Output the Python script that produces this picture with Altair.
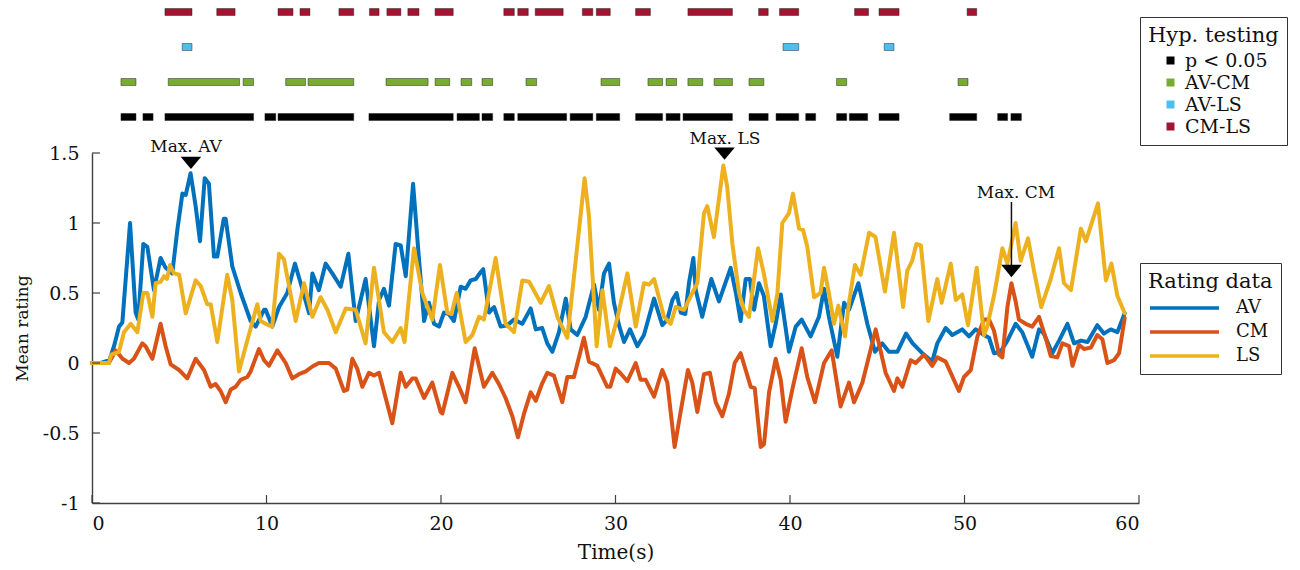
import altair as alt
import pandas as pd

FONT = "DejaVu Serif"
TEXT_COLOR = "#111111"
AXIS_COLOR = "#404040"

X_TICKS = [0, 10, 20, 30, 40, 50, 60]
Y_TICKS = [-1, -0.5, 0, 0.5, 1, 1.5]

SERIES = ["AV", "CM", "LS"]
SERIES_COLORS = ["#0072BD", "#D95319", "#EDB120"]

TESTS = ["p < 0.05", "AV-CM", "AV-LS", "CM-LS"]
TEST_COLORS = ["#000000", "#77AC30", "#4DBEEE", "#A2142F"]
ROW_ORDER = ["CM-LS", "AV-LS", "AV-CM", "p < 0.05"]

# (time s, mean rating)
AV = [(0, 0), (0.5, 0), (1.0, 0.02), (1.26, 0.12), (1.55, 0.26), (1.74, 0.29), (2.18, 1.0),
      (2.5, 0.36), (2.65, 0.31), (2.94, 0.85), (3.17, 0.83), (3.55, 0.52), (3.93, 0.75),
      (4.22, 0.68), (4.6, 0.64), (4.89, 0.95), (5.18, 1.21), (5.37, 1.2), (5.65, 1.355),
      (5.94, 1.12), (6.19, 0.87), (6.46, 1.32), (6.7, 1.28), (6.99, 0.76), (7.18, 0.76),
      (7.55, 1.03), (7.66, 1.03), (8.04, 0.69), (8.52, 0.5), (9.09, 0.3), (9.38, 0.26),
      (9.86, 0.38), (9.95, 0.38), (10.33, 0.26), (10.72, 0.4), (11.19, 0.5), (11.63, 0.71),
      (11.96, 0.57), (12.44, 0.355), (12.63, 0.64), (13.0, 0.52), (13.39, 0.71), (13.77, 0.64),
      (14.25, 0.545), (14.69, 0.78), (15.11, 0.3), (15.68, 0.6), (16.16, 0.12), (16.45, 0.45),
      (16.73, 0.53), (17.02, 0.41), (17.4, 0.85), (17.69, 0.84), (17.98, 0.62), (18.4, 1.28),
      (18.74, 0.74), (19.03, 0.3), (19.31, 0.43), (19.6, 0.28), (19.89, 0.26), (20.17, 0.36),
      (20.45, 0.35), (20.74, 0.3), (21.13, 0.545), (21.41, 0.53), (21.7, 0.59), (21.99, 0.6),
      (22.28, 0.65), (22.42, 0.67), (22.75, 0.36), (23.04, 0.4), (23.42, 0.26), (23.8, 0.27),
      (24.18, 0.31), (24.66, 0.28), (25.14, 0.39), (25.43, 0.24), (25.8, 0.25), (26.09, 0.14),
      (26.38, 0.08), (26.76, 0.22), (27.15, 0.46), (27.43, 0.24), (27.81, 0.2), (28.29, 0.33),
      (28.77, 0.56), (29.05, 0.38), (29.34, 0.64), (29.63, 0.71), (29.91, 0.43), (30.2, 0.27),
      (30.49, 0.15), (30.83, 0.24), (31.25, 0.12), (31.63, 0.2), (32.21, 0.46), (32.68, 0.27),
      (32.97, 0.31), (33.26, 0.45), (33.5, 0.5), (33.74, 0.36), (34.0, 0.35), (34.21, 0.57),
      (34.46, 0.75), (34.6, 0.52), (34.97, 0.33), (35.49, 0.6), (35.93, 0.44), (36.6, 0.68),
      (36.9, 0.5), (37.17, 0.3), (37.46, 0.6), (37.7, 0.6), (37.94, 0.38), (38.22, 0.57),
      (38.5, 0.48), (38.89, 0.12), (39.18, 0.28), (39.47, 0.49), (39.75, 0.25), (39.94, 0.08),
      (40.33, 0.26), (40.67, 0.31), (41.18, 0.19), (41.66, 0.33), (41.95, 0.53), (42.23, 0.33),
      (42.71, 0.045), (43.1, 0.43), (43.38, 0.38), (43.92, 0.57), (44.43, 0.28), (44.87, 0.08),
      (45.29, 0.14), (45.67, 0.08), (46.15, 0.08), (46.65, 0.21), (47.03, 0.14), (47.58, 0.07),
      (48.15, 0.01), (48.44, 0.14), (48.92, 0.25), (49.3, 0.2), (49.87, 0.24), (50.26, 0.19),
      (50.64, 0.24), (51.12, 0.2), (51.41, 0.18), (51.69, 0.07), (52.07, 0.08), (52.46, 0.16),
      (52.93, 0.28), (53.31, 0.22), (53.88, 0.045), (54.27, 0.24), (54.55, 0.21), (55.03, 0.07),
      (55.42, 0.16), (55.9, 0.28), (56.28, 0.14), (56.67, 0.16), (57.05, 0.15), (57.61, 0.27),
      (57.99, 0.21), (58.38, 0.24), (58.76, 0.22), (59.18, 0.355)]

CM = [(0, 0), (0.97, 0), (1.36, 0.09), (1.75, 0.03), (2.12, 0.0), (2.4, 0.03), (2.88, 0.14),
      (3.07, 0.12), (3.46, 0.03), (3.93, 0.28), (4.22, 0.12), (4.51, -0.01), (4.99, -0.05),
      (5.46, -0.11), (5.94, 0.03), (6.42, -0.05), (6.8, -0.17), (7.08, -0.15), (7.37, -0.2),
      (7.66, -0.28), (7.95, -0.19), (8.23, -0.17), (8.52, -0.12), (8.9, -0.1), (9.09, -0.06),
      (9.57, 0.1), (9.86, 0.02), (10.14, -0.02), (10.62, 0.09), (11.1, 0.0), (11.48, -0.11),
      (11.86, -0.08), (12.25, -0.06), (12.63, -0.025), (13.0, 0.0), (13.58, 0.0), (13.97, -0.04),
      (14.44, -0.2), (14.63, -0.19), (14.92, 0.03), (15.2, -0.04), (15.49, -0.17), (15.87, -0.07),
      (16.16, -0.09), (16.45, -0.07), (17.21, -0.43), (17.69, -0.07), (17.98, -0.17),
      (18.36, -0.11), (18.55, -0.11), (19.03, -0.25), (19.5, -0.14), (19.98, -0.35),
      (20.08, -0.36), (20.65, -0.07), (21.03, -0.17), (21.41, -0.28), (21.93, 0.105),
      (22.46, -0.17), (22.94, -0.07), (23.32, -0.15), (23.7, -0.25), (24.09, -0.38),
      (24.41, -0.53), (24.76, -0.36), (25.14, -0.21), (25.43, -0.27), (25.8, -0.145),
      (26.09, -0.07), (26.47, -0.09), (26.95, -0.28), (27.24, -0.1), (27.62, -0.1), (28.19, 0.18),
      (28.48, 0.01), (28.96, -0.02), (29.53, -0.17), (29.7, -0.17), (30.01, -0.04), (30.26, -0.07),
      (30.68, -0.13), (31.16, 0.0), (31.44, -0.12), (31.73, -0.12), (32.21, -0.24), (32.68, -0.05),
      (32.97, -0.14), (33.39, -0.6), (33.73, -0.35), (34.15, -0.05), (34.4, -0.14), (34.69, -0.35),
      (35.07, -0.08), (35.41, -0.07), (35.74, -0.28), (36.12, -0.38), (36.5, -0.22), (36.83, 0.0),
      (37.17, 0.07), (37.46, -0.05), (37.75, -0.17), (37.98, -0.18), (38.32, -0.6), (38.51, -0.58),
      (38.8, -0.21), (39.18, 0.03), (39.47, -0.12), (39.75, -0.42), (40.13, -0.19), (40.67, 0.105),
      (40.99, -0.1), (41.43, -0.28), (41.95, 0.0), (42.39, 0.09), (42.9, -0.31), (43.38, -0.14),
      (43.67, -0.28), (44.15, -0.14), (44.53, 0.05), (44.91, 0.24), (45.48, -0.07), (45.96, -0.2),
      (46.15, -0.11), (46.44, -0.17), (46.92, 0.02), (47.2, 0.0), (47.68, 0.06), (48.15, -0.02),
      (48.44, 0.04), (48.92, 0.01), (49.68, -0.2), (49.97, -0.1), (50.36, -0.05), (50.74, 0.19),
      (51.12, 0.31), (51.41, 0.31), (51.69, 0.23), (51.98, 0.06), (52.17, 0.04), (52.46, 0.4),
      (52.69, 0.57), (52.93, 0.44), (53.12, 0.31), (53.51, 0.28), (53.88, 0.26), (54.27, 0.33),
      (54.65, 0.18), (54.94, 0.05), (55.32, 0.04), (55.61, 0.14), (55.99, 0.12), (56.19, -0.02),
      (56.56, 0.13), (56.85, 0.1), (57.24, 0.11), (57.61, 0.2), (57.9, 0.17), (58.19, 0.0),
      (58.57, 0.02), (58.86, 0.07), (59.18, 0.32)]

LS = [(0, 0), (0.97, 0), (1.1, 0.06), (1.55, 0.08), (1.83, 0.22), (2.22, 0.28), (2.6, 0.22),
      (2.94, 0.5), (3.17, 0.5), (3.46, 0.33), (3.65, 0.57), (3.93, 0.58), (4.13, 0.62), (4.3, 0.6),
      (4.47, 0.7), (4.7, 0.64), (5.0, 0.63), (5.37, 0.355), (5.94, 0.59), (6.23, 0.55), (6.6, 0.42),
      (6.8, 0.42), (7.18, 0.15), (7.75, 0.63), (8.04, 0.45), (8.42, -0.06), (8.9, 0.16),
      (9.47, 0.42), (9.67, 0.3), (9.95, 0.28), (10.33, 0.26), (10.72, 0.78), (11.0, 0.74),
      (11.67, 0.3), (12.15, 0.57), (12.63, 0.33), (13.1, 0.47), (13.49, 0.38), (13.97, 0.22),
      (14.54, 0.39), (15.11, 0.38), (15.68, 0.14), (16.16, 0.68), (16.73, 0.22), (17.21, 0.15),
      (17.69, 0.25), (17.91, 0.15), (18.45, 0.82), (18.93, 0.5), (19.5, 0.31), (19.94, 0.7),
      (20.36, 0.36), (20.6, 0.35), (20.9, 0.5), (21.41, 0.15), (21.8, 0.2), (22.18, 0.33),
      (22.46, 0.31), (23.13, 0.75), (23.7, 0.28), (24.18, 0.22), (24.66, 0.59), (25.05, 0.58),
      (25.71, 0.43), (26.19, 0.55), (26.67, 0.33), (27.24, 0.18), (28.23, 1.32), (28.48, 1.05),
      (28.92, 0.12), (29.25, 0.52), (29.68, 0.12), (30.1, 0.32), (30.68, 0.64), (31.16, 0.26),
      (31.63, 0.57), (31.92, 0.56), (32.21, 0.6), (32.78, 0.33), (33.16, 0.28), (33.45, 0.4),
      (33.93, 0.38), (34.4, 0.5), (34.69, 0.57), (35.07, 1.07), (35.26, 1.12), (35.64, 0.9),
      (36.18, 1.41), (36.4, 1.26), (36.7, 0.85), (37.08, 0.5), (37.36, 0.38), (37.65, 0.33),
      (38.17, 0.82), (38.5, 0.64), (38.99, 0.3), (39.28, 0.5), (39.56, 1.0), (39.94, 1.07),
      (40.17, 1.21), (40.52, 0.96), (40.75, 0.95), (40.99, 0.83), (41.38, 0.47), (41.75, 0.5),
      (41.95, 0.68), (42.23, 0.5), (42.52, 0.28), (42.77, 0.41), (43.15, 0.19), (43.38, 0.43),
      (43.72, 0.7), (44.05, 0.63), (44.53, 0.93), (44.9, 0.9), (45.44, 0.51), (45.96, 0.93),
      (46.48, 0.4), (46.72, 0.66), (47.0, 0.73), (47.24, 0.85), (47.5, 0.84), (47.93, 0.3),
      (48.44, 0.6), (48.69, 0.43), (49.21, 0.71), (49.5, 0.45), (49.87, 0.49), (50.2, 0.27),
      (50.7, 0.68), (51.12, 0.2), (51.3, 0.26), (51.69, 0.48), (52.17, 0.82), (52.46, 0.71),
      (52.93, 1.0), (53.22, 0.73), (53.64, 0.89), (53.98, 0.66), (54.4, 0.4), (54.94, 0.6),
      (55.42, 0.82), (55.7, 0.57), (56.1, 0.52), (56.67, 0.96), (56.96, 0.87), (57.65, 1.14),
      (58.1, 0.59), (58.42, 0.71), (58.76, 0.48), (59.18, 0.355)]

# significant intervals (start s, end s)
SIG_P = [(1.66, 2.52), (2.92, 3.5), (4.18, 9.26), (9.91, 10.53), (10.66, 15.0), (15.87, 20.7),
         (20.92, 22.2), (22.35, 22.96), (23.6, 24.2), (24.4, 27.2), (27.4, 28.7), (28.9, 30.24),
         (31.15, 32.7), (32.9, 33.7), (33.87, 36.7), (37.65, 38.75), (39.2, 40.5), (40.9, 41.47),
         (42.67, 43.25), (43.4, 44.45), (45.1, 46.25), (49.15, 50.7), (51.9, 52.47), (52.66, 53.26)]
SIG_AVCM = [(1.66, 2.52), (4.37, 8.46), (8.66, 9.26), (11.1, 12.24), (12.38, 15.0), (16.85, 19.26),
            (19.66, 20.5), (21.15, 21.76), (22.35, 22.96), (24.87, 25.48), (29.17, 30.24),
            (31.86, 32.7), (32.9, 33.5), (34.15, 35.0), (35.65, 36.7), (37.65, 38.5),
            (42.67, 43.25), (49.63, 50.2)]
SIG_AVLS = [(5.17, 5.73), (39.6, 40.5), (45.4, 45.96)]
SIG_CMLS = [(4.18, 5.73), (7.15, 8.2), (10.66, 11.52), (11.92, 12.49), (14.15, 15.0), (15.9, 16.45),
            (16.9, 17.7), (18.1, 18.74), (19.66, 20.7), (23.6, 24.2), (24.4, 25.0), (25.4, 27.0),
            (28.1, 28.7), (28.9, 29.7), (31.15, 32.0), (34.15, 36.7), (38.2, 38.75), (39.4, 40.5),
            (43.7, 44.5), (45.1, 46.25), (50.15, 50.7)]

# annotations: label anchors and marker anchors (data coordinates)
ANN_LABELS = ["Max. AV", "Max. LS", "Max. CM"]
ANN_T = [5.39, 36.27, 52.95]
ANN_V = [1.507, 1.564, 1.179]
MARK_T = [5.67, 36.25, 52.69]
MARK_V = [1.43, 1.496, 0.657]
ARROW_T = [52.69]
ARROW_V = [1.15]
ARROW_V2 = [0.70]

TICK_LEN_V = 0.057   # ~8 px in rating units
TICK_LEN_T = 0.46    # ~8 px in seconds

# ---------------- data frames ----------------
rows = []
for name, pts in zip(SERIES, [AV, CM, LS]):
    for i, (t, v) in enumerate(pts):
        rows.append({"series": name, "t": t, "v": v, "idx": i})
lines_df = pd.DataFrame(rows)

sig_rows = []
for name, segs in zip(TESTS, [SIG_P, SIG_AVCM, SIG_AVLS, SIG_CMLS]):
    for s, e in segs:
        sig_rows.append({"test": name, "start": s, "end": e})
sig_df = pd.DataFrame(sig_rows)

xt_df = pd.DataFrame({"t": X_TICKS, "v": [Y_TICKS[0]] * len(X_TICKS)})
xt_df["v2"] = xt_df["v"] + TICK_LEN_V
yt_df = pd.DataFrame({"t": [X_TICKS[0]] * len(Y_TICKS), "v": Y_TICKS})
yt_df["t2"] = yt_df["t"] + TICK_LEN_T
ann_df = pd.DataFrame({"t": ANN_T, "v": ANN_V, "label": ANN_LABELS})
mark_df = pd.DataFrame({"t": MARK_T, "v": MARK_V})
arrow_df = pd.DataFrame({"t": ARROW_T, "v": ARROW_V, "v2": ARROW_V2})

# ---------------- encodings ----------------
x_scale = alt.Scale(domain=[0, 60], nice=False, zero=False)
y_scale = alt.Scale(domain=[-1, 1.5], nice=False, zero=False)

x_axis = alt.Axis(values=X_TICKS, ticks=False, tickSize=0, grid=False, domainColor=AXIS_COLOR,
                  domainWidth=1.4, labelFont=FONT, labelFontSize=19, labelColor=TEXT_COLOR,
                  labelPadding=11, title="Time(s)", titleFont=FONT, titleFontSize=20,
                  titleFontWeight="normal", titleColor=TEXT_COLOR, titlePadding=9)
y_axis = alt.Axis(values=Y_TICKS, ticks=False, tickSize=0, grid=False, domainColor=AXIS_COLOR,
                  domainWidth=1.4, labelFont=FONT, labelFontSize=19, labelColor=TEXT_COLOR,
                  labelPadding=13, title="Mean rating", titleFont=FONT, titleFontSize=17,
                  titleFontWeight="normal", titleColor=TEXT_COLOR, titlePadding=11,
                  labelExpr="datum.value < 0 ? '-' + format(-datum.value, '') : format(datum.value, '')")

x_enc = alt.X("t:Q", scale=x_scale, axis=x_axis)
y_enc = alt.Y("v:Q", scale=y_scale, axis=y_axis)

stroke_enc = alt.Stroke(
    "series:N",
    scale=alt.Scale(domain=SERIES, range=SERIES_COLORS),
    legend=alt.Legend(
        title="Rating data", orient="none", legendX=1048, legendY=251, direction="vertical",
        titleFont=FONT, titleFontSize=21, titleFontWeight="normal", titleColor=TEXT_COLOR,
        labelFont=FONT, labelFontSize=18, labelColor=TEXT_COLOR,
        strokeColor="#333333", fillColor="white", padding=8, titlePadding=6, rowPadding=4,
        symbolType="stroke", symbolSize=4761, symbolStrokeWidth=3.5, clipHeight=20,
        labelOffset=15, cornerRadius=0, titleLimit=400,
    ),
)

line_layers = [
    alt.Chart(lines_df).transform_filter(alt.datum.series == s)
    .mark_line(strokeWidth=4, strokeJoin="round", strokeCap="round")
    .encode(x=x_enc, y=y_enc, stroke=stroke_enc, order="idx:Q")
    for s in SERIES
]

xticks = alt.Chart(xt_df).mark_rule(color=AXIS_COLOR, strokeWidth=1.2).encode(
    x=x_enc, y=y_enc, y2="v2:Q")
yticks = alt.Chart(yt_df).mark_rule(color=AXIS_COLOR, strokeWidth=1.2).encode(
    x=x_enc, x2="t2:Q", y=y_enc)
arrow = alt.Chart(arrow_df).mark_rule(color=TEXT_COLOR, strokeWidth=1.5).encode(
    x=x_enc, y=y_enc, y2="v2:Q")
markers = alt.Chart(mark_df).mark_point(
    shape="M-1,-0.6L1,-0.6L0,0.6Z", size=420, filled=True, color="#000000", opacity=1,
    strokeWidth=0).encode(x=x_enc, y=y_enc)
labels = alt.Chart(ann_df).mark_text(
    font=FONT, fontSize=17, baseline="alphabetic", align="center", color=TEXT_COLOR
).encode(x=x_enc, y=y_enc, text="label:N")

main = alt.layer(*line_layers, xticks, yticks, arrow, markers, labels).properties(
    width=1047, height=350)

top = alt.Chart(sig_df).mark_bar(size=7, stroke="#222222", strokeWidth=0.8, strokeOpacity=0.6).encode(
    x=alt.X("start:Q", scale=x_scale, axis=None),
    x2="end:Q",
    y=alt.Y("test:N", scale=alt.Scale(type="point", padding=0, domain=ROW_ORDER), axis=None),
    fill=alt.Fill(
        "test:N",
        scale=alt.Scale(domain=TESTS, range=TEST_COLORS),
        legend=alt.Legend(
            title="Hyp. testing", orient="none", legendX=1048, legendY=5, direction="vertical",
            titleFont=FONT, titleFontSize=21, titleFontWeight="normal", titleColor=TEXT_COLOR,
            labelFont=FONT, labelFontSize=19, labelColor=TEXT_COLOR,
            strokeColor="#333333", fillColor="white", padding=8, titlePadding=5, rowPadding=2,
            symbolType="square", symbolSize=64, symbolStrokeWidth=0, symbolOffset=13,
            labelOffset=5, cornerRadius=0, titleLimit=400,
        ),
    ),
).properties(width=1047, height=105)

chart = (
    alt.vconcat(top, main, spacing=36, bounds="flush")
    .properties(padding={"left": 5, "top": 0, "right": 0, "bottom": 0})
    .configure(font=FONT)
    .configure_view(stroke=None)
)

chart.save("out.html", embed_options={"renderer": "svg", "actions": False})
